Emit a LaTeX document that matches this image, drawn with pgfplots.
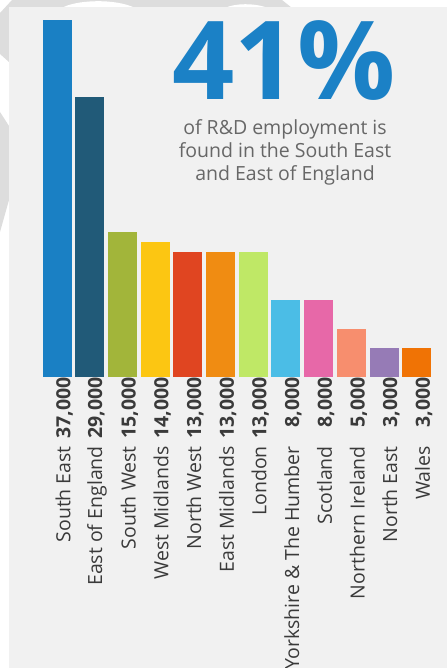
\documentclass[border=0pt]{standalone}
\usepackage{pgfplots}
\pgfplotsset{compat=1.18}
\usepackage{fontspec}
\setmainfont{Open Sans}
\definecolor{panel}{HTML}{F1F1F1}
\definecolor{deco}{HTML}{DDDDDD}
\definecolor{bigblue}{HTML}{1B81C6}
\definecolor{subgray}{HTML}{676767}
\definecolor{labgray}{HTML}{3A3A3A}
\definecolor{c1}{HTML}{1A80C4}
\definecolor{c2}{HTML}{215A78}
\definecolor{c3}{HTML}{A2B53A}
\definecolor{c4}{HTML}{FCC612}
\definecolor{c5}{HTML}{E04521}
\definecolor{c6}{HTML}{F08C12}
\definecolor{c7}{HTML}{BFE866}
\definecolor{c8}{HTML}{4BBDE6}
\definecolor{c9}{HTML}{E768A8}
\definecolor{c10}{HTML}{F78E6E}
\definecolor{c11}{HTML}{967BB6}
\definecolor{c12}{HTML}{F07305}
\newcommand{\lab}[2]{#1\hspace{12bp}\makebox[57bp][r]{\bfseries #2}}
\begin{document}
\begin{tikzpicture}[x=1bp,y=1bp]
\useasboundingbox (0,0) rectangle (447,668);
\fill[white] (0,0) rectangle (447,668);
\begin{scope}[yshift=668bp, yscale=-1]
  \fill[deco] (0,13) -- (12,0) -- (282,0) -- (292,8) -- (9,8) -- (9,62) -- (0,54) -- cycle;
  \fill[white] (62,8) .. controls (75,0) and (115,-2) .. (135,8) -- cycle;
  \fill[white] (225,8) .. controls (235,3) and (255,3) .. (268,8) -- cycle;
  \fill[deco] (0,112) -- (9,126) -- (9,200) -- (0,232) -- cycle;
  \fill[panel] (9,7) rectangle (447,668);
\end{scope}
\begin{axis}[
  at={(40.86bp,291bp)}, anchor=south west,
  scale only axis, width=392.2bp, height=357bp,
  xmin=-0.5, xmax=11.5, ymin=0, ymax=37,
  axis line style={draw=none},
  major tick length=0pt,
  ytick=\empty,
  xtick={0,...,11},
  xticklabels={\lab{South East}{37,000},\lab{East of England}{29,000},\lab{South West}{15,000},\lab{West Midlands}{14,000},\lab{North West}{13,000},\lab{East Midlands}{13,000},\lab{London}{13,000},\lab{Yorkshire \& The Humber}{8,000},\lab{Scotland}{8,000},\lab{Northern Ireland}{5,000},\lab{North East}{3,000},\lab{Wales}{3,000}},
  xticklabel style={rotate=90, anchor=east, font=\fontsize{19.5bp}{22bp}\selectfont, text=labgray, inner sep=0pt, yshift=-7bp},
  ybar, bar width=29bp,
  every axis plot/.append style={bar shift=0pt, draw=none},
  clip=false,
]
\addplot[fill=c1] coordinates {(0,37)};
\addplot[fill=c2] coordinates {(1,29)};
\addplot[fill=c3] coordinates {(2,15)};
\addplot[fill=c4] coordinates {(3,14)};
\addplot[fill=c5] coordinates {(4,13)};
\addplot[fill=c6] coordinates {(5,13)};
\addplot[fill=c7] coordinates {(6,13)};
\addplot[fill=c8] coordinates {(7,8)};
\addplot[fill=c9] coordinates {(8,8)};
\addplot[fill=c10] coordinates {(9,5)};
\addplot[fill=c11] coordinates {(10,3)};
\addplot[fill=c12] coordinates {(11,3)};
\end{axis}
\node[anchor=base, text=bigblue, inner sep=0pt, font=\fontsize{109bp}{109bp}\bfseries\selectfont] at (284,568) {41\%};
\begin{scope}[every node/.style={anchor=base, text=subgray, inner sep=0pt, font=\fontsize{19.5bp}{22bp}\selectfont}]
\node at (285,533) {of R\&D employment is};
\node at (285,510) {found in the South East};
\node at (285,487) {and East of England};
\end{scope}
\end{tikzpicture}
\end{document}
